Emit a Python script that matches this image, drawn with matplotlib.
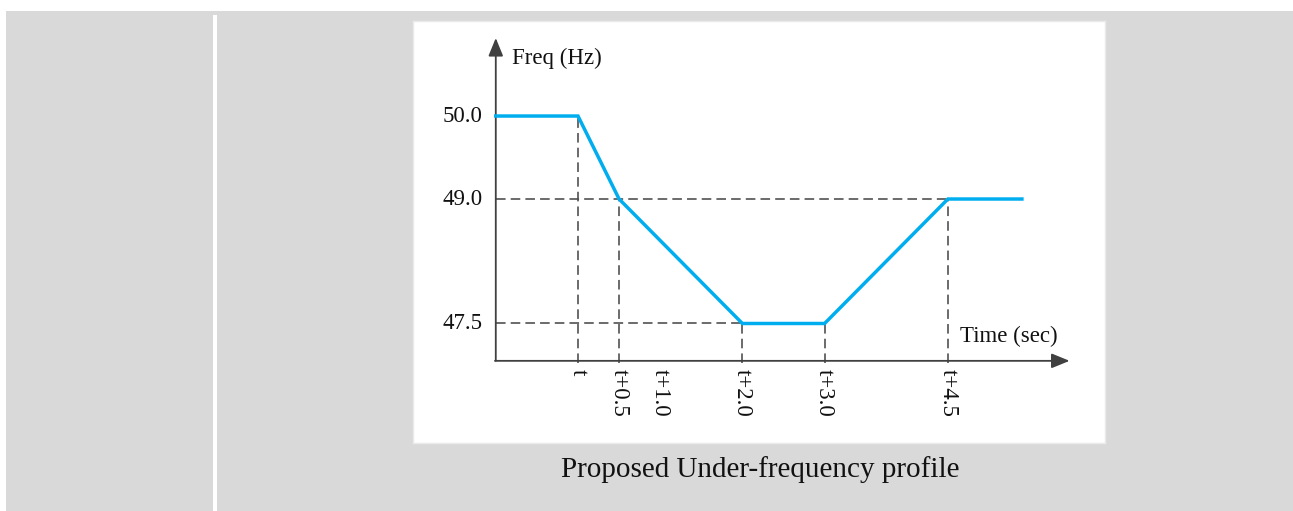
import matplotlib

matplotlib.use("Agg")
import matplotlib.pyplot as plt
from matplotlib.patches import Rectangle

# profile breakpoints (seconds after t, Hz)
profile_time = [-1.0, 0.0, 0.5, 2.0, 3.0, 4.5, 5.4]
profile_freq = [50.0, 50.0, 49.0, 47.5, 47.5, 49.0, 49.0]

tick_pos = [0.0, 0.5, 1.0, 2.0, 3.0, 4.5]
tick_labels = ["t", "t+0.5", "t+1.0", "t+2.0", "t+3.0", "t+4.5"]

freq_levels = [50.0, 49.0, 47.5]
freq_labels = ["50.0", "49.0", "47.5"]

# guide lines: (time, freq) corner points dropped to the axes
guide_times = [0.0, 0.5, 2.0, 3.0, 4.5]
guide_freqs = [50.0, 49.0, 47.5, 47.5, 49.0]
hguide_freqs = [49.0, 47.5]
hguide_ends = [4.5, 2.0]

X_ORIGIN = -1.0
Y_ORIGIN = 47.05

W, H = 1293, 511
BLUE = "#00AEEF"
DARK = "#404040"
GRAY = "#D9D9D9"
SERIF = ["Liberation Serif", "DejaVu Serif"]

fig = plt.figure(figsize=(W / 100, H / 100), dpi=100)
fig.patch.set_facecolor("white")

# grey page background and white column divider
fig.patches.append(Rectangle((6 / W, 0), 1 - 6 / W, 1 - 11 / H, transform=fig.transFigure,
                             facecolor=GRAY, edgecolor="none", zorder=-2))
fig.patches.append(Rectangle((213 / W, 0), 4 / W, 1 - 15 / H, transform=fig.transFigure,
                             facecolor="white", edgecolor="none", zorder=-1))

ax = fig.add_axes([413 / W, 68 / H, 692 / W, 422 / H])
ax.set_zorder(2)
ax.set_facecolor("white")
for side in ax.spines.values():
    side.set_color("#EAEAEA")
    side.set_linewidth(1.0)
ax.set_xticks([])
ax.set_yticks([])
ax.set_xlim(-2.007, 6.411)
ax.set_ylim(46.06, 51.145)

dash = (0, (6.0, 3.2))
for tx, fy in zip(guide_times, guide_freqs):
    ax.plot([tx, tx], [Y_ORIGIN - 0.02, fy], color="#4A4A4A", lw=1.15, linestyle=dash, zorder=2)
for fy, tx in zip(hguide_freqs, hguide_ends):
    ax.plot([X_ORIGIN, tx], [fy, fy], color="#4A4A4A", lw=1.15, linestyle=dash, zorder=2)

ax.plot(profile_time, profile_freq, color=BLUE, lw=2.5, solid_joinstyle="miter", zorder=4)

arrow = dict(arrowstyle="-|>,head_length=1.1,head_width=0.45", color=DARK, lw=1.3,
             shrinkA=0, shrinkB=0)
ax.annotate("", xy=(X_ORIGIN, 50.94), xytext=(X_ORIGIN, Y_ORIGIN), arrowprops=arrow, zorder=3)
ax.annotate("", xy=(5.98, Y_ORIGIN), xytext=(X_ORIGIN - 0.01, Y_ORIGIN), arrowprops=arrow, zorder=3)

for fy, lab in zip(freq_levels, freq_labels):
    ax.text(X_ORIGIN - 0.16, fy, lab, ha="right", va="center", fontsize=16.5,
            family=SERIF, color="#111111")
for tx, lab in zip(tick_pos, tick_labels):
    ax.text(tx, Y_ORIGIN - 0.1, lab, ha="center", va="top", rotation=270,
            fontsize=16.5, family=SERIF, color="#111111")

ax.text(-0.80, 50.70, "Freq (Hz)", ha="left", va="center", fontsize=16.5, family=SERIF,
        color="#111111")
ax.text(4.65, 47.34, "Time (sec)", ha="left", va="center", fontsize=16.5, family=SERIF,
        color="#111111")

fig.text(760 / W, 1 - 470 / H, "Proposed Under-frequency profile", ha="center", va="center",
         fontsize=21, family=SERIF, color="#111111")

fig.savefig("out.png", dpi=100, facecolor=fig.get_facecolor())
